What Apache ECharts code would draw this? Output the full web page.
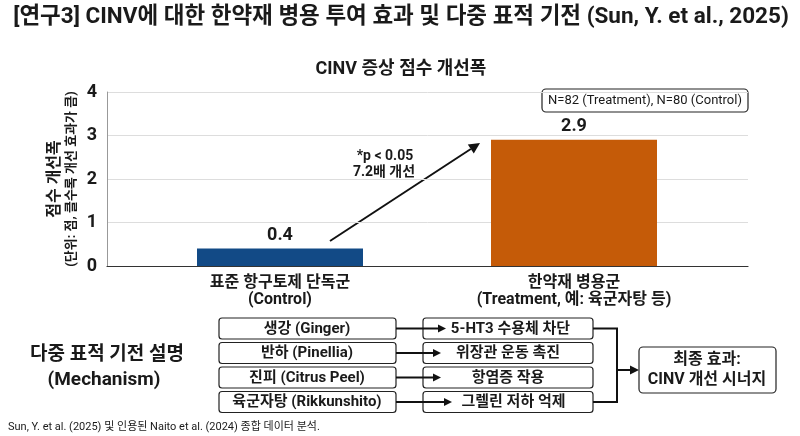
<!DOCTYPE html>
<html>
<head>
<meta charset="utf-8">
<script src="https://cdn.jsdelivr.net/npm/echarts@6/dist/echarts.min.js"></script>
<style>
  html, body { margin: 0; padding: 0; background: #fff; }
  #chart { width: 800px; height: 436px; }
</style>
</head>
<body>
<div id="chart"></div>
<script>
// 데이터
const categories = ['표준 항구토제 단독군\n(Control)', '한약재 병용군\n(Treatment, 예: 육군자탕 등)'];
const scores = [0.4, 2.9];
const barColors = ['#124a86', '#c55b08'];
const herbs = ['생강 (Ginger)', '반하 (Pinellia)', '진피 (Citrus Peel)', '육군자탕 (Rikkunshito)'];
const actions = ['5-HT3 수용체 차단', '위장관 운동 촉진', '항염증 작용', '그렐린 저하 억제'];

const FONT = "Roboto, 'Noto Sans CJK KR', sans-serif";
const INK = '#1a1a1a';

// 화살표 (선 + 삼각형 머리)
function arrow(x1, y1, x2, y2, lw, head) {
    const dx = x2 - x1, dy = y2 - y1;
    const len = Math.sqrt(dx * dx + dy * dy);
    const ux = dx / len, uy = dy / len;
    const bx = x2 - ux * head, by = y2 - uy * head;
    const px = -uy * head * 0.5, py = ux * head * 0.5;
    return [
        { type: 'line', shape: { x1: x1, y1: y1, x2: bx, y2: by }, style: { stroke: '#111', lineWidth: lw } },
        { type: 'polygon', shape: { points: [[x2, y2], [bx + px, by + py], [bx - px, by - py]] }, style: { fill: '#111' } }
    ];
}

function txt(x, y, text, size, weight, align) {
    return {
        type: 'text',
        style: {
            x: x, y: y, text: text, fill: INK,
            font: (weight || 'bold') + ' ' + size + 'px ' + FONT,
            textAlign: align || 'center', textVerticalAlign: 'middle'
        }
    };
}

function box(x, y, w, h, r) {
    return {
        type: 'rect', shape: { x: x, y: y, width: w, height: h, r: r || 3 },
        style: { fill: '#fff', stroke: '#222', lineWidth: 1.2 }
    };
}

// 제목, 주석, 하단 기전 다이어그램
const graphics = [];
graphics.push(txt(401, 17, '[연구3] CINV에 대한 한약재 병용 투여 효과 및 다중 표적 기전 (Sun, Y. et al., 2025)', 22.5));
graphics.push(txt(401, 69, 'CINV 증상 점수 개선폭', 18));

// N 박스
graphics.push(box(542, 89, 206, 23, 4));
graphics.push(txt(645, 101, 'N=82 (Treatment), N=80 (Control)', 13, 'normal'));

// 유의성 화살표
graphics.push(...arrow(330, 241, 480, 143, 2, 11));
graphics.push(txt(385, 156, '*p < 0.05', 14));
graphics.push(txt(384, 172, '7.2배 개선', 14));

graphics.push(txt(107, 355, '다중 표적 기전 설명', 19));
graphics.push(txt(104, 380, '(Mechanism)', 19));

const rowTop = [318, 342.5, 367, 391.5];
const rowH = 21;
const tips = [446, 441, 441, 452];
herbs.forEach((h, i) => {
    const cy = rowTop[i] + rowH / 2;
    graphics.push(box(219, rowTop[i], 177, rowH));
    graphics.push(txt(307, cy + 0.5, h, 15));
    graphics.push(box(423, rowTop[i], 170, rowH));
    graphics.push(...arrow(396, cy, tips[i], cy, 2, 8));
    graphics.push(txt(508 + (tips[i] - 441) * 0.5, cy + 0.5, actions[i], 15));
});
const y1 = rowTop[0] + rowH / 2, y4 = rowTop[3] + rowH / 2;
graphics.push({
    type: 'polyline', shape: { points: [[593, y1], [617, y1], [617, y4], [593, y4]] },
    style: { stroke: '#111', lineWidth: 2, fill: null }
});
graphics.push(...arrow(617, 370, 639, 370, 2, 9));
graphics.push(box(639, 347, 137, 46, 4));
graphics.push(txt(707, 360, '최종 효과:', 16));
graphics.push(txt(707, 380, 'CINV 개선 시너지', 16));

graphics.push(txt(8, 427, 'Sun, Y. et al. (2025) 및 인용된 Naito et al. (2024) 종합 데이터 분석.', 11, 'normal', 'left'));

const chart = echarts.init(document.getElementById('chart'));
chart.setOption({
    backgroundColor: '#fff',
    textStyle: { fontFamily: FONT },
    animation: false,
    grid: [
        { left: 107, right: 52, top: 92, bottom: 170 },
        { left: 133, right: 79, top: 92, bottom: 170 }
    ],
    xAxis: [
        {
            gridIndex: 0, type: 'category', data: categories,
            axisTick: { show: false }, axisLabel: { show: false },
            axisLine: { lineStyle: { color: '#333', width: 1.2 } }
        },
        {
            gridIndex: 1, type: 'category', data: categories,
            axisTick: { show: false }, axisLine: { show: false },
            axisLabel: { color: INK, fontSize: 16, fontWeight: 'bold', lineHeight: 17, margin: 8, interval: 0 }
        }
    ],
    yAxis: [
        {
            gridIndex: 0, type: 'value', min: 0, max: 4, interval: 1,
            axisLine: { show: true, lineStyle: { color: '#999' } },
            axisTick: { show: false },
            splitLine: { lineStyle: { color: '#ddd' } },
            axisLabel: { color: INK, fontSize: 18, fontWeight: 'bold', margin: 10 },
            name: '{a|점수 개선폭}\n{b|(단위: 점, 클수록 개선 효과가 큼)}',
            nameLocation: 'middle', nameRotate: 90, nameGap: 27,
            nameMoveOverlap: false,
            nameTextStyle: {
                rich: {
                    a: { fontSize: 16, fontWeight: 'bold', color: INK, lineHeight: 19, fontFamily: FONT },
                    b: { fontSize: 13, fontWeight: 'bold', color: INK, lineHeight: 16, fontFamily: FONT }
                }
            }
        },
        { gridIndex: 1, type: 'value', min: 0, max: 4, show: false }
    ],
    series: [{
        type: 'bar', xAxisIndex: 1, yAxisIndex: 1,
        barWidth: 166,
        data: scores.map((v, i) => ({ value: v, itemStyle: { color: barColors[i] } })),
        label: { show: true, position: 'top', distance: 4, color: INK, fontSize: 18, fontWeight: 'bold' }
    }],
    graphic: graphics
});
</script>
</body>
</html>
